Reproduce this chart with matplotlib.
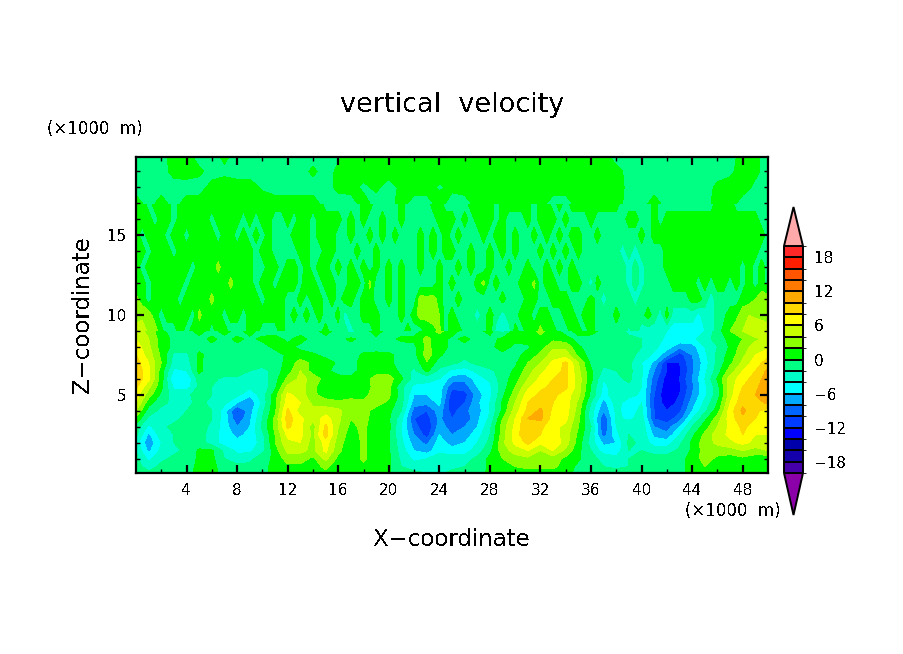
import numpy as np
import matplotlib
matplotlib.use("Agg")
import matplotlib.pyplot as plt
from matplotlib.colors import ListedColormap, BoundaryNorm

plt.rcParams['font.family'] = ['DejaVu Sans']
plt.rcParams['text.antialiased'] = False

x_km = list(range(51))
x_fine = [i * 0.5 for i in range(101)]
z_low = [0.1, .5, 1, 1.5, 2, 2.5, 3, 3.5, 4, 4.5, 5, 5.5, 6, 6.5, 7, 7.5, 8, 8.5, 9]
z_mid = [9, 10, 11, 12, 13, 14, 15, 16, 17]
z_top = [17, 18, 19, 19.9]

w00 = [-1,-1.5,-1,-.8,-.5, .5,.5,-.5,-.8,-.8, -.5,.5,.8,.8,.8, 1.5,.5,.5,.5,.3, .2,-1,-1.5,-2,-2.5, -1.5,-1,-.5,.3,.5, .8,1,1,1,.5, -.5,-1,-1,-1,-1, -.8,-.8,-.8,-.5,.5, .8,.8,.5,.5,.5, .3]
h05 = [-1,-3,-1.5,-1,-.8, .5,.5,-.8,-1.5,-1.5, -.5,.5,1.5,1.5,1, 2.5,.8,.5,1.5,.3, .3,-2,-3,-3,-3, -2.5,-2,-1,.3,1, 2,2.5,2.5,2.5,1, -.5,-1,-2,-2.5,-2, -.8,-.8,-.8,-.5,.5, 2,1,.5,.8,.5, .3]
w01 = [-1.5,-4.5,-2.5,-1.5,-1, .3,.5,-2,-3,-2.5, -1,.5,3,3,1.5, 4.5,1.5,.5,2.5,.3, .3,-2.5,-4.5,-4,-3, -3,-3,-1.5,.5,2, 3,3.5,2.5,3,1.5, .3,-1.5,-2.5,-3.5,-2, -1,-1,-1,-.5,.5, 3,1.5,1,1.5,1, .5]
h15 = [-2,-6.5,-3.5,-2.5,-1.5, .3,.3,-2.5,-4.5,-4.5, -2.5,1,4.5,4.5,3.5, 6.5,2.5,.5,2.5,.3, .3,-3,-6,-7,-4.5, -5,-5,-3,-.5,3, 5,6,4,6,3.5, .5,-2,-5,-5,-2, -2,-3,-3,-1.5,.3, 3,3,3,4,3, 4]
w02 = [-3,-7.5,-4,-2,-1.5, -1,-3,-5,-5.5,-5.5, -3,2,5.5,6,3, 7,3,.5,2.5,.3, .3,-3.5,-7,-8.5,-5, -7,-6,-4,-1.5,3.5, 6.5,8.5,6.5,7.5,5, 1,-3,-6.5,-6,-1.5, -2.5,-5,-5,-2.5,.5, 3,4.5,5.5,6.5,5.5, 6]
h25 = [-1.5,-6.5,-3,-2,-1.5, -1,-3,-5,-6.5,-5.5, -2.5,2,6.5,6.5,3.5, 9,3.5,1,2.5,.5, .3,-4,-8,-11,-6, -8,-7,-5,-2,3, 7,10,8,7,5, 1.5,-2.5,-9,-4.5,-2, -2.5,-6.5,-7.5,-4,-.5, 2.5,5,6.5,8,6, 6]
w03 = [-1,-4.5,-2.5,-1.5,-1, -1,-2.5,-5,-8,-6, -1.5,2.5,8.5,6.5,3, 8.5,4,1.5,2.5,.5, .5,-4,-9,-12,-7, -9,-8,-6,-2.5,3, 6.5,10,8.5,6.5,5.5, 2,-2,-10,-4,-2, -2.5,-8,-9,-6,-2, 1,4,6.5,8.5,7, 6.5]
h35 = [1.5,-2.5,-2.5,-2.5,-1.5, -1,-2,-5,-9.5,-6.5, -2,2.5,9,6.5,4.5, 7,4.5,2,3,.5, .3,-3.5,-10,-11,-7.5, -10,-9.5,-6.5,-3.5,2, 6,10,10.5,7,6.5, 2.5,-3,-10,-3.5,-4.5, -3,-10,-11,-9,-4, -.5,3,7,9.5,8, 7]
w04 = [4,-1,-2.5,-3,-2, -1.5,-2,-5,-10.5,-7, -2.5,1.5,8.5,5,4.5, 5,4.5,2.5,3,1, .5,-2,-9,-10,-7, -11,-8.5,-7,-4,.5, 5,8.5,10.5,7.5,7, 3,-3,-8,-3.5,-5, -3.5,-10,-12,-10.5,-6, -2.5,1,7,10.5,8.5, 7]
h45 = [6,.8,-1.5,-2.5,-2.5, -1.5,-2.5,-3.5,-6,-8, -3.5,1.5,7,6,3.5, 3,2.5,3,2.5,3, 1.5,-1.5,-7,-7.5,-5.5, -12,-10,-6.5,-4,.3, 4,8,9,8,7, 3.5,-2,-7,-3,-5.5, -4,-10.5,-13,-11.5,-7, -3.5,0,6,9.5,9, 10.5]
w05 = [7,3,-.5,-3,-2.5, -1,-2,-3,-3.5,-5.5, -3,1,6.5,5,2.5, 1,.5,1,1,3.5, 2.5,-1,-6,-6,-5, -11,-11,-7,-4.5,-.5, 3,7,8.5,8.5,7, 4.5,-.5,-5,-2.5,-3, -4.5,-10,-14,-12,-8, -4.5,-1,5,9,10, 11.5]
h55 = [8.5,4.5,.5,-4.5,-5, -1.5,-2,-2.5,-3,-3.5, -3.5,-.5,4.5,5,2.5, .5,.3,.3,.5,3, 2.5,-1.5,-4.5,-4.5,-5, -9.5,-9,-6,-4.5,-1, 2,5.5,7.5,8.5,8.5, 5,-.3,-4.5,-3,-2.5, -4,-9.5,-13.5,-12.5,-8.5, -4.5,-.8,5,8,9.5, 11.5]
w06 = [9.5,6.5,1,-6,-6, -1,-1.5,-2.5,-2.5,-3, -3,-.8,2.5,4.5,3.5, 1,.5,.3,.8,3, 3,.3,-3,-3.5,-4, -7,-7.5,-5,-3.5,-1, 1,4,6.5,8,8.5, 5,.5,-4,-2.5,-1.5, -4,-9,-13,-12,-8, -4,.3,5,7,9, 11]
h65 = [9.5,6.5,1,-4.5,-4, .5,-1.5,-1,-.8,-2, -3,-1,1,4,1, .3,-.5,-.5,.5,1, 1,-.5,-2.5,.5,-2.5, -4.5,-5,-3.5,-2.5,-1, .3,3,5.5,7,8.5, 4.5,.3,-2.5,-2,-1.5, -3.5,-8,-12,-12.5,-8.5, -4.5,-1,3,6,8, 10.5]
w07 = [9,6,2,-3,-3, .5,-1.5,-1,-.5,-.5, -.8,-.8,.5,3,1.5, .8,-.3,-.5,.5,.5, .5,-1,-1.5,1.8,-1, -1.5,-2.5,-1.5,-.5,-.5, -.3,2,4,6.5,8.5, 4,-.5,-1.5,-1.5,-1.5, -4,-6.5,-12,-12,-8.5, -5,-1.5,1.5,4.5,7, 9]
h75 = [8,5,1.5,-2.5,-2.5, .5,-1,-.8,-.8,-.5, -.8,-.8,.3,.8,.3, -.5,-1,-.8,.3,.3, .3,-.5,-.8,3,.3, -1,-1.5,-1.5,-.8,-.5, -.5,.5,2.5,5,5, 1.5,-1,-1.5,-1.5,-1.5, -2.5,-4.5,-7.5,-11,-8, -4.5,-1.5,.8,3.5,6, 7.5]
w08 = [7,4.5,1,-.5,-1, -.8,-.5,-.8,-.5,-.8, -.8,.5,.5,-.5,-1, -.8,-1,-.8,-.8,-.5, -.8,-1,-.5,2.5,1, -.5,-.5,-1,-.5,.8, -.5,-.2,1,3.5,3.5, .3,-1,-1,-1,-1.5, -2,-3.5,-5,-7.5,-7, -4,-2,.3,3,5, 5.5]
h85 = [6,4,1,-.5,-.8, -.8,.5,-.8,.5,-.5, .5,.8,-.5,.8,-.8, -.8,-.8,.5,-.8,-.5, -.8,.5,.5,2.5,1, -.5,.5,-.8,-.8,.5, .5,.5,1.5,1.5,.8, -.8,-1,-1,-1,-1.5, -2,-3,-4.5,-4.5,-4.5, -3,-1,.5,2,3.5, 5]

u09 = [5,5,3.5,3,.5, -1,-1,1,-1,1, 1,1,-1,1,1, -1,-1,-1,1,1, -1,-1,-1,1,-1,
       -1,-1,-1,-1,-1, 1,-1,-1,-1,-3, -1,-1,-1,1,-1, -1,-1,-1,1,-1, -1,1,1,2.5,-1,
       1,1,-1,-1,-1, -1,1,-3,-3,-3, 1,-1,1,1,2.5, 1,1,-1,-1,1, 1,-1,1,-1,-1,
       -1,-1,-1,-2.5,-1, -3,-3,-3,-3,-4, -5,-5,-5,-5,-5, -4,-3.5,-1,.5,2, 3,4,6,6,5, 4.5]
u10 = [3,3.5,3,1,-1, 1,1,1,1,-1, 2.5,1,1,1,-1, 1,1,-1,1,1, 1,1,1,1,-1,
       1,-1,1,-1,1, -1,-1,1,-3,-1, -1,1,1,1,-1, -1,-1,1,-1,1, 3,2.5,3.5,2,-1,
       1,-1,-1,-1,-3, -1,1,-1,-3,-1, -1,1,1,-1,1, 1,-1,-1,1,1, -1,1,1,-1,-1,
       -1,1,-1,-1,-1, -1,1,-1,-3,1, -3,-3,-3,-3,-4.5, -3,-3,-1,-.5,1, 1.5,3,4,3.5,3.5, 3.5]
u11 = [2.5,1,-1,1,1, 1,1,-1,1,1, 1,1,2.5,1,1, 1,1,1,1,1, -1,1,1,1,-1,
       -1,1,-1,1,1, -1,1,-1,1,1, -1,1,1,-1,-1, 1,-1,1,-1,-1, 3,2.5,3,1,-1,
       -1,1,-1,-1,-1, -1,-1,-1,1,-1, -1,-1,1,1,-1, -1,1,1,1,-1, -1,-1,1,-1,-3,
       -1,-1,-1,-1,-3, -1,-1,-1,-1,-1, -1,-1,-1,1,1, -1,-3,-1,-1,-1, -1,1,1,2,3, 3]
u12 = [1,1,-1,1,1, 1,1,1,-1,1, 1,1,1,1,1, 2.5,1,1,1,-1, 1,1,-1,1,1,
       1,-1,2,1,-1, 1,1,-1,-1,1, 1,-1,2.5,-1,-1, 1,-1,1,-1,-1, -1,-1,-1,1,-1,
       1,-1,-1,-1,1, 2.5,-1,1,-1,-1, -1,1,1,2.5,-1, 1,1,-1,-1,1, 1,-1,-3,1,-1,
       -1,-1,-1,-3,-1, -3,-1,-1,-1,-1, 1,1,1,1,-1, 1,-1,1,1,-1, 1,-1,1,-1,1, -1]
u13 = [1,-1,1,1,1, 1,1,1,1,-1, 1,1,1,2.5,1, 1,1,1,1,-1, -1,1,1,-1,1,
       1,-1,1,-1,1, 1,-1,1,-1,1, -1,1,-1,1,-1, 1,-1,1,-1,-1, 1,-1,-1,1,-1,
       -1,1,-1,1,-1, -1,1,-1,-1,1, -1,-1,1,-1,-1, 1,-1,1,-1,1, -1,-1,-1,-1,-1,
       -1,-1,-1,-3,-1, -3,-1,-1,-1,1, 1,1,1,1,1, 1,1,1,1,1, 1,-1,1,-1,1, -1]
u14 = [1,1,-1,1,1, 1,-1,1,1,1, 1,1,1,1,1, 1,1,1,1,-1, 1,1,-1,-1,-1,
       -1,1,1,-1,-1, 1,1,-1,-1,-1, 1,-1,-1,1,-1, -1,-1,-1,-1,-1, 1,-1,1,-1,1,
       1,-1,-1,1,-1, -1,1,-1,1,-1, 1,-1,-1,-1,1, -1,1,-1,1,-1, 1,-1,-1,-1,-1,
       -1,-1,-3,-1,-3, -1,-1,-1,-1,1, 1,1,1,1,1, 1,1,1,1,1, 1,1,1,1,-1, -1]
u15 = [1,-1,1,1,1, -1,1,1,-1,1, 1,1,1,-1,1, 1,-1,1,-1,1, -1,1,-1,-1,-1,
       1,1,1,-1,1, 1,1,-1,-1,1, -1,-1,1,-1,1, -1,1,-1,-1,-1, 1,-1,1,-1,1,
       -1,1,-1,-1,-1, 1,-1,1,1,-1, 1,-1,-1,1,-1, 1,-1,1,-1,1, 1,-1,-1,1,-1,
       -1,-1,-1,-1,-1, 1,-1,1,1,1, 1,1,1,1,1, 1,1,1,1,1, 1,1,1,1,1, -1]
u16 = [1,1,1,-1,1, 1,-1,1,1,1, 1,1,-1,1,1, 1,1,-1,1,-1, 1,1,-1,-1,1,
       -1,1,1,-1,1, 1,1,1,-1,1, -1,1,-1,-1,1, -1,-1,1,-1,-1, -1,-1,-1,1,1,
       1,-1,1,-1,1, 1,1,-1,1,-1, -1,-1,1,-1,1, 1,1,-1,1,-1, -1,-1,1,-1,-1,
       -1,-1,-1,1,1, -1,-1,1,-1,1, 1,1,1,1,1, 1,1,1,1,1, 1,1,1,1,-1, -1]
u17 = [1,1,-1,1,1, 1,-1,1,1,1, 1,1,1,1,1, 1,1,1,1,1, 1,1,1,1,1,
       1,1,1,1,1, -1,-1,-1,-1,-1, -1,1,1,-1,-1, -1,-1,1,-1,-1, -1,-1,1,1,-1,
       -1,-1,-1,1,1, 1,1,-1,1,1, 1,1,1,-1,1, 1,-1,1,-1,1, 1,1,1,1,1,
       1,1,-1,-1,-1, -1,-1,1,-1,-1, -1,-1,-1,-1,-1, -1,-1,1,1,1, -1,-1,-1,-1,-1, -1]

w18 = [-1,-1,-1,-1,-1, -1,.8,1,1,1, -.3,-1,-1,-1,-1, -1,.6,.8,-.5,.5, -1,.5,1,1,-.3, .5,1,1,1,1, 1,1,1,1,1, 1,1,1,.8,-.5, -1,-1,-1,-1,-1, -1,.5,1,1,-.5, -1]
w19 = [-1,-1,-1,.8,1, .5,-1,-.5,-1,-1, -1,-1,-1,-1,.5, -1,.5,1,1,1, 1,1,1,1,1, 1,1,1,1,1, 1,1,1,1,1, 1,1,1,.8,-.8, -1,-1,-1,-1,-1, -1,-1,-.5,1,.5, -1]
w20 = [-1,-1,-1,1,1, -1,-1,.5,-1,-1, -1,-1,-1,-1,-1, -1,-.3,1,1,1, 1,1,1,1,1, 1,1,1,1,1, 1,1,1,1,1, 1,1,1,-1,-1, -1,-1,-1,-1,-1, -1,-1,-1,1,.5, -1]

low_rows = [w00,h05,w01,h15,w02,h25,w03,h35,w04,h45,w05,h55,w06,h65,w07,h75,w08,h85,u09[::2]]
mid_rows = [u09,u10,u11,u12,u13,u14,u15,u16,u17]
top_rows = [u17[::2],w18,w19,w20]

levels = list(range(-20, 21, 2))
band_colors = ['#4600aa','#1400aa','#0000aa','#0000ff','#003cff','#0064ff','#00aaff','#00ffff',
               '#00ffc8','#00ff82','#00ff00','#8cff00','#c8ff00','#ffff00','#ffd700','#ffaa00',
               '#ff7800','#ff5500','#ff1e00','#ff2828']
under_color = '#8c00aa'
over_color = '#ffaaaa'
x_ticks = list(range(4, 49, 4))
z_ticks = [5, 10, 15]
cbar_ticks = [-18, -12, -6, 0, 6, 12, 18]

W, H = 904, 654
fig = plt.figure(figsize=(W/100, H/100), dpi=100, facecolor='white')
def box(l, t, r, b):
    return [l/W, 1-b/H, (r-l)/W, (b-t)/H]
ax = fig.add_axes(box(136, 157, 768, 473))
cmap = ListedColormap(band_colors)
cmap.set_under(under_color); cmap.set_over(over_color)
norm = BoundaryNorm(levels, cmap.N)
kw = dict(levels=levels, cmap=cmap, norm=norm, extend='both', antialiased=False)
cf = ax.contourf(x_km, z_low, np.array(low_rows), **kw)
ax.contourf(x_fine, z_mid, np.array(mid_rows), **kw)
ax.contourf(x_km, z_top, np.array(top_rows), **kw)
ax.set_xlim(0, 50); ax.set_ylim(0.1, 19.9)
ax.set_xticks(x_ticks); ax.set_xticks(range(2, 50, 4), minor=True)
ax.set_yticks(z_ticks); ax.set_yticks([z for z in range(1, 20) if z % 5], minor=True)
ax.tick_params(which='major', direction='in', length=6, width=1.6, top=True, right=True, labelsize=11, pad=7)
ax.tick_params(which='minor', direction='in', length=3, width=1, top=True, right=True)
for s in ax.spines.values():
    s.set_linewidth(1.6)

cax = fig.add_axes(box(784, 207, 803, 515))
cb = fig.colorbar(cf, cax=cax, extend='both', extendfrac=[0.185, 0.172], drawedges=True, spacing='uniform')
cb.set_ticks(cbar_ticks)
cb.ax.set_yticklabels([str(t).replace('-', '\u2212') for t in cbar_ticks], fontsize=11)
cb.ax.tick_params(length=0, pad=8)
cb.outline.set_linewidth(1.4); cb.outline.set_edgecolor('black')
cb.dividers.set_linewidth(1.4); cb.dividers.set_color('black')

def px(x, y, s, **kw):
    fig.text(x/W, 1-y/H, s, va='center', **kw)
px(452, 105, 'vertical  velocity', ha='center', fontsize=19.5)
px(47, 129, '(\u00d71000  m)', ha='left', fontsize=12)
px(781, 511, '(\u00d71000  m)', ha='right', fontsize=12)
px(452, 540, 'X\u2212coordinate', ha='center', fontsize=16.5)
px(83, 315, 'Z\u2212coordinate', ha='center', fontsize=16.5, rotation=90)
fig.savefig('out.png', dpi=100)
